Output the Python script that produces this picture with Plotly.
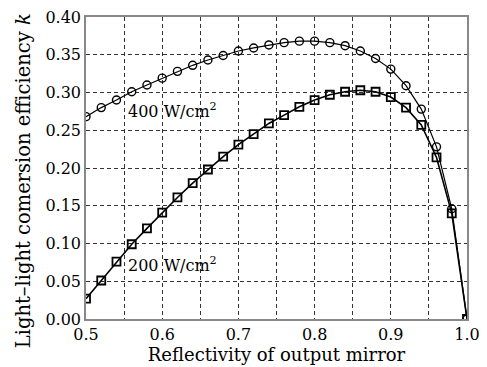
import plotly.graph_objects as go

reflectivity = [0.50, 0.52, 0.54, 0.56, 0.58, 0.60, 0.62, 0.64, 0.66, 0.68, 0.70, 0.72, 0.74,
                0.76, 0.78, 0.80, 0.82, 0.84, 0.86, 0.88, 0.90, 0.92, 0.94, 0.96, 0.98, 1.00]
eff_400 = [0.268, 0.280, 0.290, 0.301, 0.310, 0.319, 0.328, 0.336, 0.343, 0.349, 0.355, 0.359, 0.363,
           0.366, 0.368, 0.368, 0.366, 0.362, 0.355, 0.345, 0.331, 0.309, 0.278, 0.228, 0.146, 0.000]
eff_200 = [0.027, 0.051, 0.076, 0.099, 0.120, 0.141, 0.161, 0.180, 0.198, 0.215, 0.231, 0.245, 0.259,
           0.270, 0.281, 0.290, 0.297, 0.301, 0.303, 0.301, 0.294, 0.280, 0.257, 0.214, 0.140, 0.000]
x_ticks = [0.5, 0.6, 0.7, 0.8, 0.9, 1.0]
x_tick_text = ["0.5", "0.6", "0.7", "0.8", "0.9", "1.0"]
y_ticks = [0.00, 0.05, 0.10, 0.15, 0.20, 0.25, 0.30, 0.35, 0.40]
y_tick_text = ["0.00", "0.05", "0.10", "0.15", "0.20", "0.25", "0.30", "0.35", "0.40"]
labels = ["400 W/cm<sup>2</sup>", "200 W/cm<sup>2</sup>"]
label_pos = [(0.553, 0.276), (0.553, 0.072)]
x_title = "Reflectivity of output mirror"
y_title = "Light–light comersion efficiency <i>k</i>"

FONT = "DejaVu Serif"
FS = 16
GRID_DASH = "4px,3px"

fig = go.Figure()
fig.add_trace(go.Scatter(
    x=reflectivity, y=eff_400, mode="lines+markers",
    line=dict(color="black", width=1.2),
    marker=dict(symbol="circle-open", size=8, color="black", line=dict(width=1.4)),
    showlegend=False))
fig.add_trace(go.Scatter(
    x=reflectivity, y=eff_200, mode="lines+markers",
    line=dict(color="black", width=1.6),
    marker=dict(symbol="square-open", size=8, color="black", line=dict(width=1.8)),
    showlegend=False))

for txt, (lx, ly) in zip(labels, label_pos):
    fig.add_annotation(x=lx, y=ly, text=txt, showarrow=False, xanchor="left", yanchor="middle",
                       font=dict(family=FONT, size=FS, color="black"))

# y-axis title (placed as rotated text to match the reference position)
fig.add_annotation(x=-0.162, y=0.457, xref="paper", yref="paper", text=y_title,
                   textangle=-90, showarrow=False, xanchor="center", yanchor="middle",
                   font=dict(family=FONT, size=19.5, color="black"))

fig.update_xaxes(
    range=[0.5, 1.0], tickvals=x_ticks, ticktext=x_tick_text,
    showline=True, linecolor="#888888", linewidth=1.5, mirror=True,
    ticks="", zeroline=False, automargin=False, ticklabeloverflow="allow",
    showgrid=True, gridcolor="#333333", griddash=GRID_DASH, gridwidth=1,
    minor=dict(dtick=0.05, tick0=0.5, showgrid=True, gridcolor="#333333",
               griddash=GRID_DASH, gridwidth=1),
    title=dict(text=x_title, standoff=4,
               font=dict(family=FONT, size=18, color="black")),
    tickfont=dict(family=FONT, size=FS, color="black"),
)
fig.update_yaxes(
    range=[0.0, 0.4], tickvals=y_ticks, ticktext=y_tick_text,
    showline=True, linecolor="#888888", linewidth=1.5, mirror=True,
    ticks="", zeroline=False, automargin=False, ticklabeloverflow="allow",
    showgrid=True, gridcolor="#333333", griddash=GRID_DASH, gridwidth=1,
    tickfont=dict(family=FONT, size=FS, color="black"),
)

fig.update_layout(
    width=479, height=359,
    margin=dict(l=78, r=20, t=9, b=48),
    paper_bgcolor="white", plot_bgcolor="white",
    font=dict(family=FONT, color="black"),
)

fig.write_html("out.html")
